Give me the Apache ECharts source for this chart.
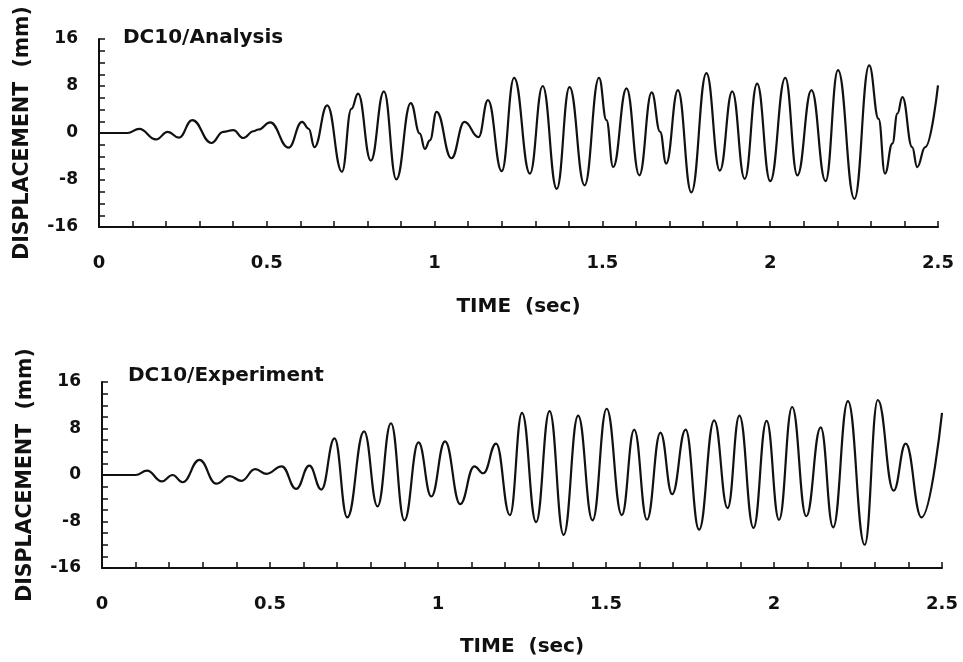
<!DOCTYPE html>
<html>
<head>
<meta charset="utf-8">
<script src="https://cdn.jsdelivr.net/npm/echarts@6/dist/echarts.min.js"></script>
<style>
html,body{margin:0;padding:0;background:#fff;}
#c{width:963px;height:662px;}
</style>
</head>
<body>
<div id="c"></div>
<script>
// ---- Data ----
const analysisTime = [0, 0.085, 0.12, 0.17, 0.205, 0.238, 0.278, 0.335, 0.37, 0.40, 0.43, 0.46, 0.475, 0.51, 0.565, 0.605, 0.625, 0.642, 0.68, 0.724, 0.752, 0.772, 0.81, 0.849, 0.886, 0.929, 0.956, 0.971, 0.986, 1.006, 1.05, 1.089, 1.131, 1.159, 1.2, 1.237, 1.284, 1.322, 1.364, 1.402, 1.447, 1.49, 1.512, 1.532, 1.572, 1.61, 1.647, 1.672, 1.69, 1.725, 1.765, 1.81, 1.85, 1.887, 1.924, 1.961, 2.0, 2.045, 2.081, 2.123, 2.165, 2.202, 2.251, 2.295, 2.323, 2.342, 2.364, 2.379, 2.394, 2.423, 2.438, 2.462, 2.5];
const analysisDisp = [0, 0, 0.7, -1.1, 0.2, -0.8, 2.2, -1.7, 0.2, 0.5, -0.85, 0.3, 0.6, 1.8, -2.5, 1.9, 0.7, -2.4, 4.7, -6.6, 4.1, 6.7, -4.7, 7.1, -7.9, 5.1, -0.1, -2.7, -1.25, 3.6, -4.3, 1.9, -0.7, 5.6, -6.5, 9.4, -6.9, 8.0, -9.5, 7.8, -8.9, 9.4, 2.2, -5.8, 7.6, -7.2, 6.9, 0.2, -5.2, 7.3, -10.1, 10.2, -6.4, 7.1, -7.8, 8.4, -8.2, 9.4, -7.2, 7.3, -8.2, 10.7, -11.2, 11.5, 2.4, -6.9, -1.8, 3.3, 6.1, -2.4, -5.8, -2.4, 8.1];

const experimentTime = [0, 0.1, 0.134, 0.178, 0.21, 0.24, 0.29, 0.34, 0.38, 0.415, 0.456, 0.49, 0.535, 0.578, 0.617, 0.653, 0.692, 0.73, 0.78, 0.82, 0.86, 0.9, 0.942, 0.98, 1.021, 1.066, 1.108, 1.135, 1.173, 1.214, 1.25, 1.292, 1.332, 1.374, 1.417, 1.46, 1.502, 1.547, 1.584, 1.622, 1.662, 1.697, 1.737, 1.777, 1.822, 1.862, 1.897, 1.939, 1.978, 2.015, 2.054, 2.096, 2.139, 2.176, 2.22, 2.27, 2.309, 2.356, 2.392, 2.439, 2.5];
const experimentDisp = [0, 0, 0.75, -1.1, 0, -1.25, 2.6, -1.5, -0.2, -1.0, 1.0, 0.2, 1.5, -2.4, 1.6, -2.5, 6.3, -7.3, 7.5, -5.4, 8.9, -7.8, 5.6, -3.7, 5.8, -5.0, 1.5, 0.3, 5.4, -6.9, 10.7, -8.1, 11.0, -10.3, 10.2, -7.8, 11.4, -6.9, 7.8, -7.7, 7.3, -3.3, 7.8, -9.4, 9.4, -5.7, 10.2, -9.1, 9.3, -7.7, 11.7, -7.1, 8.2, -9.0, 12.7, -12.0, 12.9, -2.7, 5.4, -7.3, 10.7];

const panelTitles = ['DC10/Analysis', 'DC10/Experiment'];
const xAxisTitle = 'TIME  (sec)';
const yAxisTitle = 'DISPLACEMENT  (mm)';
const xRange = [0, 2.5];
const yRange = [-16, 16];

// ---- Chart ----
const pair = (t, v) => t.map((x, i) => [x, v[i]]);
const FONT = '"DejaVu Sans", Arial, sans-serif';
const black = '#111';

function xAxisCfg(gridIndex, gap) {
  return {
    type: 'value', gridIndex: gridIndex,
    min: xRange[0], max: xRange[1], interval: 0.5,
    name: xAxisTitle, nameLocation: 'middle', nameGap: gap,
    nameTextStyle: {fontFamily: FONT, fontWeight: 'bold', fontSize: 20, color: black},
    axisLine: {show: true, onZero: false, lineStyle: {color: black, width: 2}},
    axisTick: {show: true, inside: true, length: 6, lineStyle: {color: black, width: 1.5}},
    minorTick: {show: true, splitNumber: 5, length: 6, lineStyle: {color: black, width: 1.5}},
    axisLabel: {margin: 27, fontFamily: FONT, fontWeight: 'bold', fontSize: 18, color: black,
      formatter: v => String(v)},
    splitLine: {show: false}, minorSplitLine: {show: false}
  };
}
function yAxisCfg(gridIndex) {
  return {
    type: 'value', gridIndex: gridIndex,
    min: yRange[0], max: yRange[1], interval: 8,
    name: yAxisTitle, nameLocation: 'middle', nameGap: 66,
    nameTextStyle: {fontFamily: FONT, fontWeight: 'bold', fontSize: 20.5, color: black},
    axisLine: {show: true, lineStyle: {color: black, width: 2}},
    axisTick: {show: true, inside: true, length: 6, lineStyle: {color: black, width: 1.5}},
    minorTick: {show: true, splitNumber: 4, length: 6, lineStyle: {color: black, width: 1.5}},
    axisLabel: {margin: 21, fontFamily: FONT, fontWeight: 'bold', fontSize: 17, color: black},
    splitLine: {show: false}, minorSplitLine: {show: false}
  };
}
function lineSeries(idx, data, smooth) {
  return {
    type: 'line', xAxisIndex: idx, yAxisIndex: idx, data: data,
    showSymbol: false, symbol: 'none', smooth: smooth, smoothMonotone: 'x',
    lineStyle: {color: black, width: 2.2}, animation: false, silent: true
  };
}

const chart = echarts.init(document.getElementById('c'), null, {renderer: 'canvas'});
chart.setOption({
  backgroundColor: '#fff',
  animation: false,
  title: [
    {text: panelTitles[0], left: 118, top: 23,
     textStyle: {fontFamily: FONT, fontWeight: 'bold', fontSize: 20, color: black}},
    {text: panelTitles[1], left: 123, top: 361,
     textStyle: {fontFamily: FONT, fontWeight: 'bold', fontSize: 20, color: black}}
  ],
  grid: [
    {left: 99, right: 25, top: 39, height: 188},
    {left: 102, right: 21, top: 382, height: 186}
  ],
  xAxis: [xAxisCfg(0, 70), xAxisCfg(1, 69)],
  yAxis: [yAxisCfg(0), yAxisCfg(1)],
  series: [
    lineSeries(0, pair(analysisTime, analysisDisp), 0.45),
    lineSeries(1, pair(experimentTime, experimentDisp), 0.45)
  ]
});
</script>
</body>
</html>
